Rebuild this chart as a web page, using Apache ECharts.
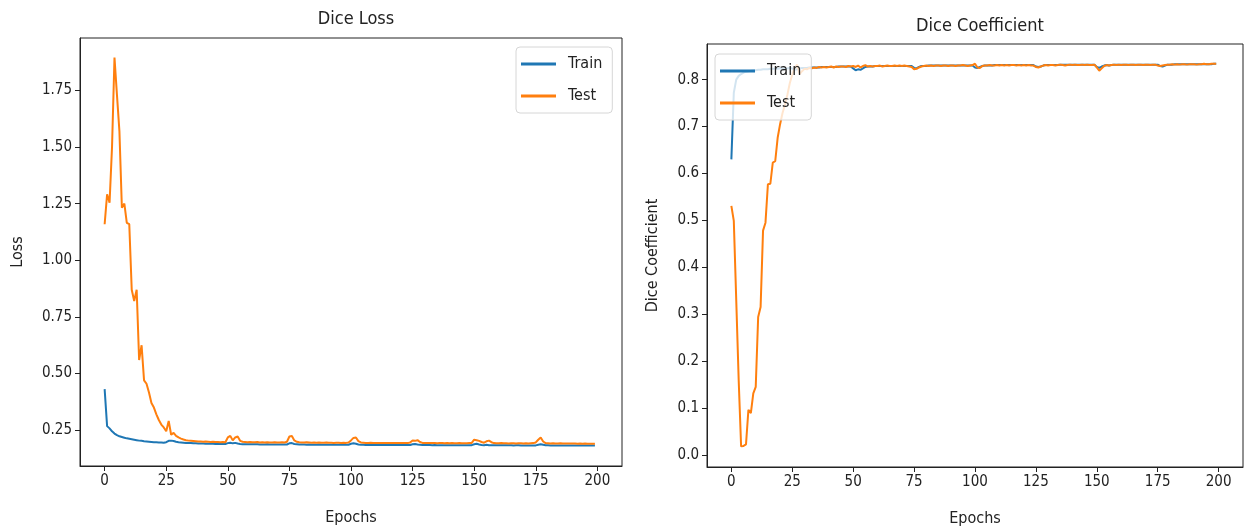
<!DOCTYPE html>
<html>
<head>
<meta charset="utf-8">
<script src="https://cdn.jsdelivr.net/npm/echarts@6/dist/echarts.min.js"></script>
<style>
  html, body { margin: 0; padding: 0; background: #fff; }
  #chart { width: 1246px; height: 532px; }
</style>
</head>
<body>
<div id="chart"></div>
<script>
// x ticks shared by both panels
const epochTicks = [0, 25, 50, 75, 100, 125, 150, 175, 200];
const lossTicks = [0.25, 0.5, 0.75, 1.0, 1.25, 1.5, 1.75];
const diceTicks = [0.0, 0.1, 0.2, 0.3, 0.4, 0.5, 0.6, 0.7, 0.8];

// Dice loss, one value per epoch (0..199)
const trainLoss = [
  0.431,0.268,0.258,0.245,0.235,0.228,0.223,0.220,0.217,0.214,
  0.212,0.210,0.208,0.206,0.204,0.203,0.201,0.200,0.199,0.198,
  0.197,0.197,0.196,0.196,0.195,0.197,0.203,0.204,0.202,0.199,
  0.197,0.196,0.195,0.194,0.193,0.193,0.192,0.192,0.191,0.191,
  0.191,0.190,0.190,0.190,0.190,0.189,0.189,0.189,0.189,0.189,
  0.193,0.195,0.192,0.194,0.191,0.189,0.188,0.188,0.188,0.188,
  0.188,0.188,0.188,0.187,0.187,0.187,0.188,0.187,0.187,0.187,
  0.187,0.187,0.187,0.187,0.187,0.192,0.193,0.189,0.188,0.187,
  0.187,0.187,0.186,0.187,0.186,0.186,0.186,0.187,0.186,0.186,
  0.186,0.186,0.186,0.186,0.186,0.186,0.186,0.186,0.186,0.186,
  0.190,0.192,0.190,0.187,0.186,0.186,0.185,0.185,0.186,0.185,
  0.185,0.185,0.185,0.185,0.185,0.185,0.185,0.185,0.185,0.185,
  0.185,0.185,0.185,0.185,0.185,0.188,0.189,0.187,0.186,0.185,
  0.185,0.185,0.185,0.184,0.185,0.184,0.184,0.184,0.184,0.184,
  0.184,0.184,0.184,0.184,0.184,0.184,0.184,0.184,0.184,0.184,
  0.188,0.190,0.187,0.185,0.184,0.186,0.184,0.184,0.184,0.184,
  0.184,0.184,0.184,0.184,0.184,0.184,0.183,0.184,0.184,0.183,
  0.183,0.183,0.183,0.183,0.183,0.183,0.186,0.188,0.186,0.184,
  0.184,0.183,0.183,0.183,0.183,0.183,0.183,0.183,0.183,0.183,
  0.183,0.183,0.183,0.183,0.183,0.182,0.183,0.182,0.182,0.182
];
const testLoss = [
  1.159,1.291,1.254,1.500,1.895,1.730,1.570,1.232,1.250,1.165,
  1.159,0.870,0.820,0.870,0.560,0.625,0.470,0.455,0.416,0.370,
  0.350,0.320,0.295,0.275,0.262,0.245,0.291,0.230,0.238,0.225,
  0.218,0.213,0.209,0.206,0.204,0.203,0.202,0.201,0.200,0.200,
  0.199,0.200,0.199,0.198,0.199,0.198,0.198,0.197,0.198,0.197,
  0.218,0.225,0.205,0.218,0.222,0.203,0.199,0.198,0.197,0.198,
  0.197,0.197,0.198,0.196,0.197,0.196,0.197,0.196,0.196,0.197,
  0.196,0.196,0.197,0.196,0.199,0.222,0.224,0.205,0.199,0.197,
  0.196,0.196,0.197,0.196,0.195,0.196,0.195,0.196,0.195,0.195,
  0.196,0.195,0.195,0.194,0.195,0.195,0.194,0.195,0.194,0.196,
  0.205,0.216,0.218,0.202,0.196,0.195,0.194,0.194,0.195,0.194,
  0.194,0.194,0.193,0.194,0.194,0.193,0.194,0.193,0.193,0.194,
  0.193,0.193,0.194,0.193,0.196,0.205,0.203,0.206,0.198,0.194,
  0.193,0.193,0.194,0.193,0.193,0.192,0.193,0.193,0.192,0.193,
  0.192,0.193,0.192,0.192,0.193,0.192,0.192,0.192,0.193,0.194,
  0.208,0.206,0.203,0.198,0.195,0.201,0.204,0.197,0.193,0.192,
  0.192,0.193,0.192,0.192,0.191,0.192,0.192,0.191,0.192,0.192,
  0.191,0.192,0.191,0.192,0.193,0.196,0.208,0.218,0.200,0.193,
  0.192,0.191,0.192,0.191,0.191,0.192,0.191,0.191,0.191,0.191,
  0.191,0.191,0.190,0.191,0.190,0.191,0.190,0.190,0.190,0.190
];

// Dice coefficient, one value per epoch (0..199)
const trainDice = [
  0.630,0.772,0.800,0.808,0.812,0.815,0.817,0.818,0.819,0.820,
  0.820,0.821,0.821,0.822,0.822,0.822,0.823,0.823,0.823,0.823,
  0.824,0.824,0.824,0.824,0.825,0.824,0.821,0.822,0.824,0.825,
  0.825,0.825,0.826,0.826,0.826,0.826,0.826,0.827,0.827,0.827,
  0.827,0.827,0.827,0.827,0.828,0.828,0.828,0.828,0.828,0.828,
  0.824,0.820,0.822,0.821,0.824,0.827,0.828,0.828,0.828,0.829,
  0.829,0.829,0.829,0.829,0.829,0.829,0.829,0.829,0.829,0.829,
  0.829,0.829,0.829,0.829,0.829,0.825,0.824,0.827,0.829,0.829,
  0.829,0.830,0.830,0.830,0.830,0.830,0.830,0.830,0.830,0.830,
  0.830,0.830,0.830,0.830,0.830,0.830,0.830,0.830,0.830,0.830,
  0.826,0.825,0.827,0.829,0.830,0.830,0.830,0.830,0.831,0.831,
  0.831,0.831,0.831,0.831,0.831,0.831,0.831,0.831,0.831,0.831,
  0.831,0.831,0.831,0.831,0.831,0.828,0.827,0.828,0.830,0.831,
  0.831,0.831,0.831,0.831,0.831,0.832,0.832,0.832,0.832,0.832,
  0.832,0.832,0.832,0.832,0.832,0.832,0.832,0.832,0.832,0.832,
  0.827,0.825,0.828,0.830,0.831,0.830,0.831,0.832,0.832,0.832,
  0.832,0.832,0.832,0.832,0.832,0.832,0.832,0.832,0.832,0.832,
  0.832,0.832,0.832,0.832,0.832,0.832,0.829,0.828,0.830,0.832,
  0.832,0.832,0.833,0.833,0.833,0.833,0.833,0.833,0.833,0.833,
  0.833,0.833,0.833,0.833,0.833,0.833,0.833,0.833,0.834,0.834
];
const testDice = [
  0.531,0.499,0.330,0.160,0.018,0.019,0.022,0.096,0.089,0.131,
  0.145,0.294,0.315,0.478,0.495,0.577,0.578,0.623,0.626,0.676,
  0.705,0.729,0.747,0.768,0.793,0.811,0.825,0.832,0.812,0.818,
  0.823,0.822,0.825,0.824,0.826,0.825,0.827,0.826,0.827,0.826,
  0.827,0.828,0.826,0.828,0.827,0.828,0.828,0.827,0.829,0.828,
  0.829,0.827,0.830,0.826,0.829,0.831,0.828,0.829,0.828,0.829,
  0.829,0.830,0.828,0.829,0.830,0.829,0.829,0.830,0.829,0.830,
  0.829,0.830,0.829,0.828,0.827,0.822,0.823,0.826,0.828,0.829,
  0.830,0.829,0.830,0.829,0.830,0.830,0.829,0.830,0.830,0.829,
  0.830,0.830,0.829,0.830,0.830,0.831,0.830,0.829,0.830,0.831,
  0.834,0.826,0.825,0.829,0.830,0.830,0.831,0.830,0.830,0.831,
  0.830,0.831,0.830,0.831,0.830,0.831,0.831,0.830,0.831,0.830,
  0.831,0.830,0.831,0.830,0.830,0.827,0.826,0.828,0.830,0.831,
  0.830,0.831,0.831,0.830,0.831,0.832,0.831,0.830,0.831,0.832,
  0.831,0.832,0.831,0.831,0.832,0.831,0.832,0.831,0.831,0.832,
  0.826,0.819,0.824,0.829,0.831,0.830,0.831,0.832,0.831,0.832,
  0.831,0.832,0.832,0.831,0.832,0.832,0.831,0.832,0.832,0.831,
  0.832,0.832,0.831,0.832,0.832,0.830,0.829,0.830,0.831,0.832,
  0.832,0.833,0.832,0.833,0.832,0.833,0.833,0.832,0.833,0.833,
  0.833,0.832,0.833,0.833,0.834,0.833,0.833,0.834,0.834,0.834
];

const BLUE = '#1f77b4';
const ORANGE = '#ff7f0e';
const FONT = "'DejaVu Sans Condensed', 'Liberation Sans Narrow', 'DejaVu Sans', sans-serif";

// pair each value with its epoch index
const toPairs = arr => arr.map((v, i) => [i, v]);

const xAxisBase = (gridIndex) => ({
  type: 'value',
  gridIndex: gridIndex,
  min: -10,
  max: 210,
  name: 'Epochs',
  nameLocation: 'middle',
  nameGap: 44,
  nameTextStyle: { fontFamily: FONT, fontSize: 16, color: '#222' },
  axisLine: { show: true, onZero: false, lineStyle: { color: '#222', width: 1 } },
  axisTick: { show: true, length: 5, lineStyle: { color: '#222' }, customValues: epochTicks },
  axisLabel: { fontFamily: FONT, fontSize: 15, color: '#222', margin: 8, customValues: epochTicks },
  splitLine: { show: false }
});

const yAxisBase = (gridIndex, min, max, ticks, digits, name, gap) => ({
  type: 'value',
  gridIndex: gridIndex,
  min: min,
  max: max,
  name: name,
  nameLocation: 'middle',
  nameRotate: 90,
  nameGap: gap,
  nameTextStyle: { fontFamily: FONT, fontSize: 16, color: '#222' },
  axisLine: { show: true, onZero: false, lineStyle: { color: '#222', width: 1 } },
  axisTick: { show: true, length: 5, lineStyle: { color: '#222' }, customValues: ticks },
  axisLabel: {
    fontFamily: FONT, fontSize: 15, color: '#222', margin: 8, customValues: ticks,
    formatter: v => v.toFixed(digits)
  },
  splitLine: { show: false }
});

const legendBase = (left, top) => ({
  orient: 'vertical',
  left: left,
  top: top,
  data: ['Train', 'Test'],
  icon: 'rect',
  itemWidth: 35,
  itemHeight: 3,
  itemGap: 16,
  padding: [9, 10, 9, 5],
  borderColor: '#d6d6d6',
  borderWidth: 1,
  borderRadius: 4,
  backgroundColor: 'rgba(255,255,255,0.8)',
  selectedMode: false,
  textStyle: { fontFamily: FONT, fontSize: 16, color: '#222', padding: [0, 0, 0, 7] }
});

const lineSeries = (name, color, data, idx) => ({
  name: name,
  type: 'line',
  xAxisIndex: idx,
  yAxisIndex: idx,
  data: toPairs(data),
  showSymbol: false,
  symbol: 'none',
  lineStyle: { width: 2, color: color },
  itemStyle: { color: color },
  animation: false
});

const chart = echarts.init(document.getElementById('chart'));
chart.setOption({
  animation: false,
  backgroundColor: '#fff',
  title: [
    { text: 'Dice Loss', left: 351, top: 5, textAlign: 'center',
      textStyle: { fontFamily: FONT, fontSize: 18, fontWeight: 'normal', color: '#222' } },
    { text: 'Dice Coefficient', left: 975, top: 12, textAlign: 'center',
      textStyle: { fontFamily: FONT, fontSize: 18, fontWeight: 'normal', color: '#222' } }
  ],
  grid: [
    { left: 80, right: 624, top: 38, bottom: 66, show: true, borderColor: '#222', borderWidth: 1 },
    { left: 707, right: 3, top: 44, bottom: 65, show: true, borderColor: '#222', borderWidth: 1 }
  ],
  legend: [legendBase(516, 47), legendBase(715, 54)],
  xAxis: [xAxisBase(0), xAxisBase(1)],
  yAxis: [
    yAxisBase(0, 0.092, 1.981, lossTicks, 2, 'Loss', 54),
    yAxisBase(1, -0.026, 0.876, diceTicks, 1, 'Dice Coefficient', 46)
  ],
  series: [
    lineSeries('Train', BLUE, trainLoss, 0),
    lineSeries('Test', ORANGE, testLoss, 0),
    lineSeries('Train', BLUE, trainDice, 1),
    lineSeries('Test', ORANGE, testDice, 1)
  ]
});
</script>
</body>
</html>
